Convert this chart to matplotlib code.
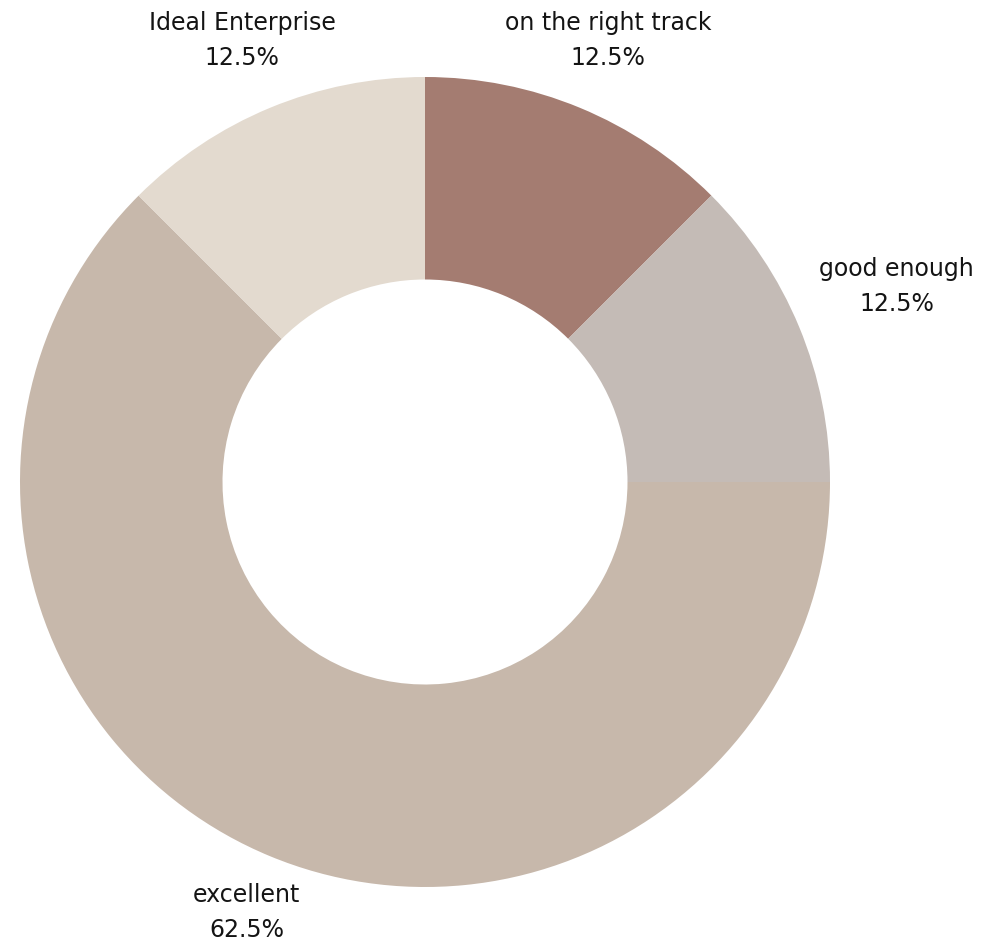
import matplotlib
matplotlib.use("Agg")
import matplotlib.pyplot as plt
import numpy as np

labels = ["on the right track", "good enough", "excellent", "Ideal Enterprise"]
values = [12.5, 12.5, 62.5, 12.5]
colors = ["#a47c71", "#c4bbb6", "#c7b8ab", "#e3dacf"]
label_dist = [1.18, 1.26, 1.15, 1.18]

W, H = 1001, 940
cx, cy, r = 425, 482, 405

fig = plt.figure(figsize=(W / 100, H / 100), dpi=100)
ax = fig.add_axes([(cx - r) / W, (H - cy - r) / H, 2 * r / W, 2 * r / H])

wedges, _ = ax.pie(values, colors=colors, startangle=90, counterclock=False,
                   radius=1.0, wedgeprops=dict(width=0.5, linewidth=0))
ax.set_xlim(-1, 1)
ax.set_ylim(-1, 1)
ax.axis("off")

# labels sit out along each slice's middle angle
for w, lab, val, d in zip(wedges, labels, values, label_dist):
    ang = np.deg2rad((w.theta1 + w.theta2) / 2)
    ax.text(d * np.cos(ang), d * np.sin(ang), f"{lab}\n{val}%",
            ha="center", va="center", fontsize=17, color="#141414",
            linespacing=1.6, clip_on=False)

fig.savefig("out.png", dpi=100)
